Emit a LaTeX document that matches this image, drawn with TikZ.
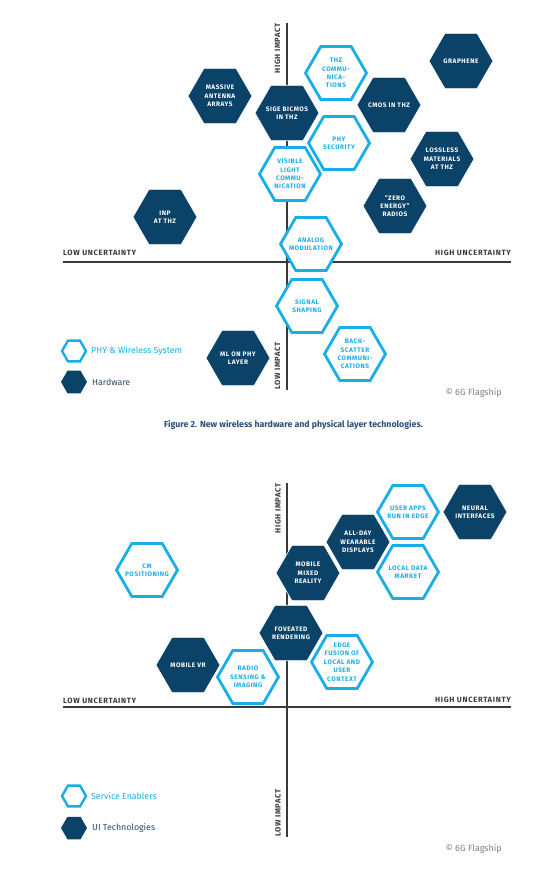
\documentclass[tikz,border=0pt]{standalone}
\usepackage{fontspec}
\setmainfont{Fira Sans}
\newfontfamily\hexfont{Fira Sans}[LetterSpace=8]
\newfontfamily\axfont{Fira Sans}[LetterSpace=9]
\usetikzlibrary{shapes.geometric}
\definecolor{navy}{HTML}{0B4267}
\definecolor{sky}{HTML}{19AEE8}
\definecolor{axisgray}{HTML}{3A3A3A}
\definecolor{capblue}{HTML}{28507A}
\definecolor{legdark}{HTML}{2E4A62}
\tikzset{
  darkhex/.style={regular polygon, regular polygon sides=6, minimum size=64pt, inner sep=0pt, fill=navy, draw=white, line width=0.6pt},
  lighthex/.style={regular polygon, regular polygon sides=6, minimum size=61pt, inner sep=0pt, fill=white, draw=sky, line width=2.8pt},
  darktext/.style={align=center, text=white, inner sep=0pt, font=\hexfont\bfseries\fontsize{6.5}{8.4}\selectfont},
  lighttext/.style={align=center, text=sky, inner sep=0pt, font=\hexfont\bfseries\fontsize{6.5}{8.4}\selectfont},
  axisline/.style={draw=axisgray, line width=2.2pt},
  axlabel/.style={text=axisgray, inner sep=0pt, font=\axfont\bfseries\fontsize{7.6}{8}\selectfont},
  legdarkhex/.style={regular polygon, regular polygon sides=6, minimum size=26pt, inner sep=0pt, fill=navy},
  leglighthex/.style={regular polygon, regular polygon sides=6, minimum size=24pt, inner sep=0pt, fill=white, draw=sky, line width=2.4pt},
  legtext/.style={inner sep=0pt, anchor=west, font=\fontsize{8.8}{10}\selectfont},
  copy/.style={inner sep=0pt, anchor=east, text=gray, font=\fontsize{9}{10}\selectfont},
}
\begin{document}
\begin{tikzpicture}[x=1pt,y=-1pt]
\useasboundingbox[fill=white] (0,0) rectangle (552,871);

% ---------- Top chart ----------
\coordinate (t-vtop) at (287,23);
\coordinate (t-vbot) at (287,390);
\coordinate (t-hl) at (63,262);
\coordinate (t-hr) at (511,262);
\draw[axisline] (t-vtop) -- (t-vbot);
\draw[axisline, line width=2.6pt] (t-hl) -- (t-hr);
\node[axlabel, rotate=90, anchor=east] (t-hi) at (277.5,23) {HIGH IMPACT};
\node[axlabel, rotate=90, anchor=west] (t-lo) at (277.5,390) {LOW IMPACT};
\node[axlabel, anchor=base west] (t-lu) at (63,255.5) {LOW UNCERTAINTY};
\node[axlabel, anchor=base east] (t-hu) at (511,255.5) {HIGH UNCERTAINTY};

\node[darkhex] (maa) at (220,96) {};
\node[darktext] at (maa) {MASSIVE\\ANTENNA\\ARRAYS};
\node[lighthex] (thz) at (336,73) {};
\node[lighttext] at (thz) {THZ\\COMMU-\\NICA-\\TIONS};
\node[darkhex] (gra) at (461,61) {};
\node[darktext] at (gra) {GRAPHENE};
\node[darkhex] (cmos) at (389,105) {};
\node[darktext] at (cmos) {CMOS IN THZ};
\node[lighthex] (phys) at (339,143) {};
\node[lighttext] at (phys) {PHY\\SECURITY};
\node[darkhex] (sige) at (287,113) {};
\node[darktext] at (sige) {SIGE BICMOS\\IN THZ};
\node[darkhex] (loss) at (442,159) {};
\node[darktext] at (loss) {LOSSLESS\\MATERIALS\\AT THZ};
\node[lighthex] (vlc) at (290,174) {};
\node[lighttext] at (vlc) {VISIBLE\\LIGHT\\COMMU-\\NICATION};
\node[darkhex] (zero) at (395,206) {};
\node[darktext] at (zero) {“ZERO\\ENERGY”\\RADIOS};
\node[darkhex] (inp) at (165,217) {};
\node[darktext] at (inp) {INP\\AT THZ};
\node[lighthex] (ana) at (311,244) {};
\node[lighttext] at (ana) {ANALOG\\MODULATION};
\node[lighthex] (sig) at (307,306) {};
\node[lighttext] at (sig) {SIGNAL\\SHAPING};
\node[lighthex] (back) at (355,354) {};
\node[lighttext] at (back) {BACK-\\SCATTER\\COMMUNI-\\CATIONS};
\node[darkhex] (ml) at (238,358) {};
\node[darktext] at (ml) {ML ON PHY\\LAYER};

\node[leglighthex] (t-leg1) at (74,351) {};
\node[legtext, text=sky] (t-leg1t) at (91,351) {PHY \& Wireless System};
\node[legdarkhex] (t-leg2) at (74,382) {};
\node[legtext, text=legdark] (t-leg2t) at (92,382) {Hardware};
\node[copy] (t-copy) at (502,393) {© 6G Flagship};

\node[inner sep=0pt, text=capblue, font=\bfseries\fontsize{8.8}{10}\selectfont] (cap) at (293.5,425) {Figure 2. New wireless hardware and physical layer technologies.};

% ---------- Bottom chart ----------
\coordinate (b-vtop) at (287,483);
\coordinate (b-vbot) at (287,837);
\coordinate (b-hl) at (63,707);
\coordinate (b-hr) at (511,707);
\draw[axisline] (b-vtop) -- (b-vbot);
\draw[axisline, line width=2.6pt] (b-hl) -- (b-hr);
\node[axlabel, rotate=90, anchor=east] (b-hi) at (278,483) {HIGH IMPACT};
\node[axlabel, rotate=90, anchor=west] (b-lo) at (278,837) {LOW IMPACT};
\node[axlabel, anchor=base west] (b-lu) at (63,703) {LOW UNCERTAINTY};
\node[axlabel, anchor=base east] (b-hu) at (511,702.5) {HIGH UNCERTAINTY};

\node[lighthex] (uae) at (408,512) {};
\node[lighttext] at (uae) {USER APPS\\RUN IN EDGE};
\node[darkhex] (neu) at (475,512) {};
\node[darktext] at (neu) {NEURAL\\INTERFACES};
\node[darkhex] (adw) at (358,542) {};
\node[darktext] at (adw) {ALL-DAY\\WEARABLE\\DISPLAYS};
\node[lighthex] (ldm) at (408,572) {};
\node[lighttext] at (ldm) {LOCAL DATA\\MARKET};
\node[darkhex] (mmr) at (308,573) {};
\node[darktext] at (mmr) {MOBILE\\MIXED\\REALITY};
\node[lighthex] (cmp) at (147,570) {};
\node[lighttext] at (cmp) {CM\\POSITIONING};
\node[darkhex] (fov) at (291,633) {};
\node[darktext] at (fov) {FOVEATED\\RENDERING};
\node[darkhex] (mvr) at (188,665) {};
\node[darktext] at (mvr) {MOBILE VR};
\node[lighthex] (rsi) at (248,677) {};
\node[lighttext] at (rsi) {RADIO\\SENSING \&\\IMAGING};
\node[lighthex] (efl) at (342,662) {};
\node[lighttext] at (efl) {EDGE\\FUSION OF\\LOCAL AND\\USER\\CONTEXT};

\node[leglighthex] (b-leg1) at (74,796) {};
\node[legtext, text=sky] (b-leg1t) at (91,796) {Service Enablers};
\node[legdarkhex] (b-leg2) at (74,828) {};
\node[legtext, text=legdark] (b-leg2t) at (92,828) {UI Technologies};
\node[copy] (b-copy) at (502,849) {© 6G Flagship};
\end{tikzpicture}
\end{document}
